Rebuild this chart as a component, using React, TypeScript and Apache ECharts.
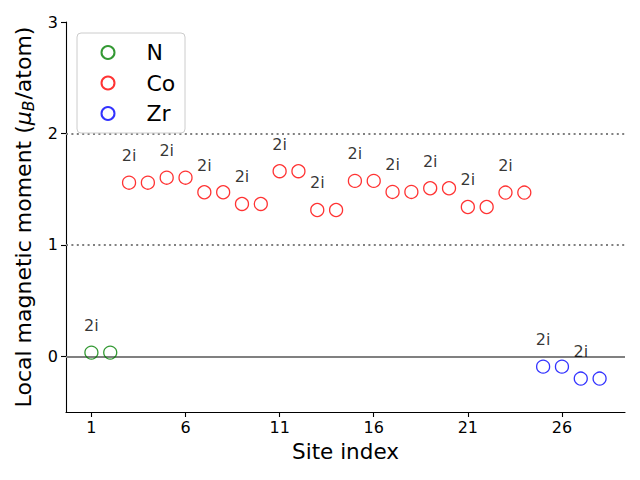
import React, { useEffect, useRef } from "react";
import * as echarts from "echarts";

const nSites = [1, 2];
const nMoments = [0.033, 0.033];
const nLabels = ["2i", ""];

const coSites = [3, 4, 5, 6, 7, 8, 9, 10, 11, 12, 13, 14, 15, 16, 17, 18, 19, 20, 21, 22, 23, 24];
const coMoments = [1.558, 1.558, 1.603, 1.603, 1.472, 1.472, 1.367, 1.367, 1.661, 1.661, 1.313, 1.313, 1.574, 1.574, 1.475, 1.475, 1.508, 1.508, 1.34, 1.34, 1.469, 1.469];
const coLabels = ["2i", "", "2i", "", "2i", "", "2i", "", "2i", "", "2i", "", "2i", "", "2i", "", "2i", "", "2i", "", "2i", ""];

const zrSites = [25, 26, 27, 28];
const zrMoments = [-0.093, -0.093, -0.2, -0.2];
const zrLabels = ["2i", "", "2i", ""];

const xTicks = [1, 6, 11, 16, 21, 26];
const yTicks = [0, 1, 2, 3];

const FONT = "DejaVu Sans";

function buildData(sites: number[], vals: number[], labels: string[]) {
  return sites.map((s, i) => ({
    value: [s, vals[i]],
    label: {
      show: labels[i] !== "",
      formatter: labels[i],
    },
  }));
}

function makeSeries(name: string, color: string, sites: number[], vals: number[], labels: string[], extra: any = {}) {
  return {
    name,
    type: "scatter",
    symbol: "circle",
    symbolSize: 13,
    itemStyle: { color: "rgba(0,0,0,0)", borderColor: color, borderWidth: 1.3 },
    label: {
      position: "top",
      distance: 12,
      color: "#000000",
      textBorderWidth: 0,
      fontFamily: FONT,
      fontSize: 16,
    },
    emphasis: { disabled: true },
    data: buildData(sites, vals, labels),
    z: 5,
    ...extra,
  };
}

export default function App() {
  const ref = useRef<HTMLDivElement>(null);
  useEffect(() => {
    if (!ref.current) return;
    const chart = echarts.init(ref.current, null, { renderer: "svg" });
    chart.setOption({
      animation: false,
      textStyle: { fontFamily: FONT },
      grid: { left: 66, right: 15, top: 22, bottom: 68, containLabel: false },
      graphic: [
        {
          type: "rect",
          shape: { x: 77, y: 33, width: 108, height: 100, r: 4 },
          style: { fill: "rgba(255,255,255,0.8)", stroke: "#cccccc", lineWidth: 1 },
          z: 10,
        },
      ],
      legend: {
        orient: "vertical",
        left: 100.5,
        top: 41.5,
        padding: 0,
        itemWidth: 13,
        itemHeight: 13,
        itemGap: 8.5,
        z: 11,
        textStyle: {
          fontFamily: FONT,
          fontSize: 22,
          lineHeight: 22,
          color: "#000",
          padding: [0, 0, 0, 27],
        },
        data: ["N", "Co", "Zr"],
      },
      xAxis: {
        type: "value",
        min: -0.35,
        max: 29.35,
        name: "Site index",
        nameLocation: "middle",
        nameGap: 28.5,
        nameTextStyle: { fontFamily: FONT, fontSize: 21.5, color: "#000" },
        axisLine: { show: true, onZero: false, lineStyle: { color: "#000", width: 1.1 } },
        axisTick: { show: true, inside: false, length: 5, lineStyle: { color: "#000", width: 1.1 }, customValues: xTicks },
        axisLabel: { show: true, margin: 7, fontSize: 16, color: "#000", fontFamily: FONT, customValues: xTicks },
        splitLine: { show: false },
      },
      yAxis: {
        type: "value",
        min: -0.5,
        max: 3,
        name: "{n|Local magnetic moment (}{mu|μ}{sub|B}{n|/atom)}",
        nameLocation: "middle",
        nameRotate: 90,
        nameGap: 29,
        nameTextStyle: {
          color: "#000",
          rich: {
            n: { fontFamily: FONT, fontSize: 22, color: "#000", lineHeight: 26, verticalAlign: "middle" },
            mu: { fontFamily: FONT, fontSize: 22, fontStyle: "italic", color: "#000", lineHeight: 26, verticalAlign: "middle" },
            sub: { fontFamily: FONT, fontSize: 15.5, fontStyle: "italic", color: "#000", lineHeight: 26, verticalAlign: "bottom", padding: [8, 1, 0, 0] },
          },
        },
        axisLine: { show: true, onZero: false, lineStyle: { color: "#000", width: 1.1 } },
        axisTick: { show: true, inside: false, length: 5, lineStyle: { color: "#000", width: 1.1 }, customValues: yTicks },
        axisLabel: { show: true, margin: 8, fontSize: 16, color: "#000", fontFamily: FONT, customValues: yTicks },
        splitLine: { show: false },
      },
      series: [
        makeSeries("N", "#008000", nSites, nMoments, nLabels, {
          markLine: {
            silent: true,
            symbol: "none",
            label: { show: false },
            emphasis: { disabled: true },
            z: 1,
            data: [
              { yAxis: 0, lineStyle: { color: "#808080", width: 2, type: "solid" } },
              { yAxis: 1, lineStyle: { color: "#808080", width: 2, type: [2, 3.4] } },
              { yAxis: 2, lineStyle: { color: "#808080", width: 2, type: [2, 3.4] } },
            ],
          },
        }),
        makeSeries("Co", "#ff0000", coSites, coMoments, coLabels),
        makeSeries("Zr", "#0000ff", zrSites, zrMoments, zrLabels),
      ],
    });
    return () => chart.dispose();
  }, []);
  return <div ref={ref} style={{ width: 640, height: 480, position: "absolute", left: 0, top: 0 }} />;
}
